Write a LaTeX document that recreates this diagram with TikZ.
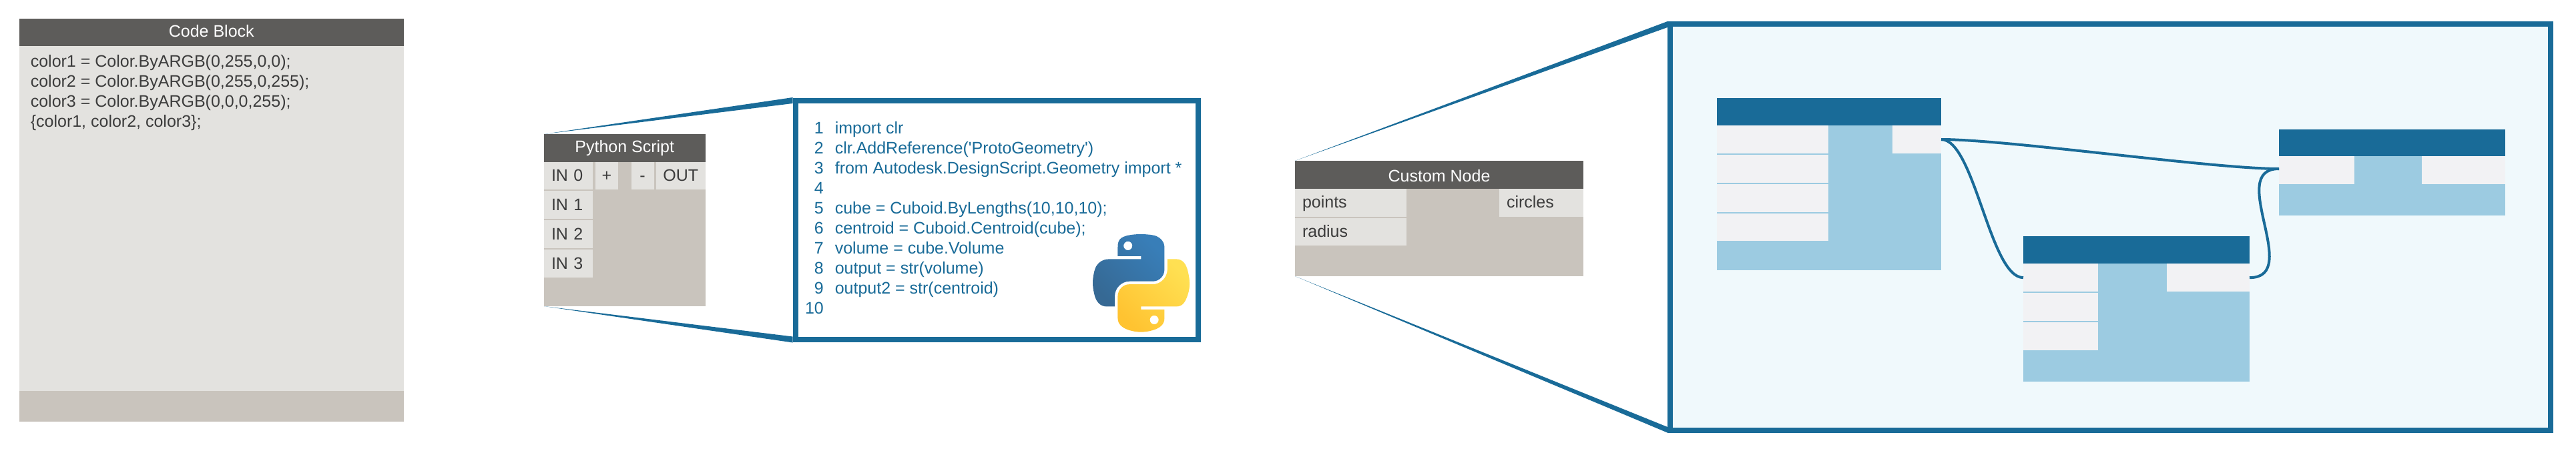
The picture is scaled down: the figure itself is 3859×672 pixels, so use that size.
\documentclass[tikz,border=0pt]{standalone}
\usepackage{fontspec}
\setmainfont[Ligatures=TeXOff]{Liberation Sans}
\definecolor{hdr}{HTML}{5D5C5A}
\definecolor{bodybg}{HTML}{C9C4BD}
\definecolor{port}{HTML}{E3E2DF}
\definecolor{ink}{HTML}{3C3C3C}
\definecolor{deep}{HTML}{196B98}
\definecolor{pale}{HTML}{9CCBE1}
\definecolor{portb}{HTML}{F2F2F4}
\definecolor{panel}{HTML}{F0F9FC}
\definecolor{pya}{HTML}{387EB8}
\definecolor{pyb}{HTML}{366994}
\definecolor{pyc}{HTML}{FFE052}
\definecolor{pyd}{HTML}{FFC331}
\newcommand{\nbox}[7]{%
  \pgfmathsetmacro\nbW{#4-#2}\pgfmathsetmacro\nbH{#5-#3}\pgfmathsetmacro\nbT{#4-#2-22}%
  \node[inner sep=0pt,outer sep=0pt,minimum width=\nbW pt,minimum height=\nbH pt,anchor=north west,#6] (#1) at (#2,#3) {#7};}
\tikzset{
  txt/.style={font=\fontsize{25}{30}\selectfont},
  title/.style={fill=hdr,text=white,txt,text height=17.5pt,text depth=4pt},
  shell/.style={fill=bodybg},
  plain/.style={fill=port},
  portc/.style={fill=port,text=ink,txt,text height=19pt,text depth=3pt},
  portl/.style={portc,inner xsep=11pt,text width=\nbT pt,align=left},
  bluehead/.style={fill=deep},
  blueshell/.style={fill=pale},
  blueport/.style={fill=portb},
  frame/.style={draw=deep,line width=8pt},
  taper/.style={fill=deep},
  wire/.style={draw=deep,line width=4pt},
  code/.style={txt,text=ink,inner sep=0pt,align=left,anchor=base west},
  pycode/.style={txt,text=deep,inner sep=0pt,anchor=base west},
}
\begin{document}
\begin{tikzpicture}[x=1pt,y=-1pt]
\useasboundingbox (0,0) rectangle (3859,672);
% Code block
\nbox{cbbody}{28.6}{69.4}{605}{586}{plain}{}
\nbox{cbfoot}{28.6}{586}{605}{632}{shell}{}
\nbox{cbhead}{28.6}{28}{605}{69.4}{title}{Code Block}
\node[code] (cbtext) at (45.6,190.7) {color1 = Color.ByARGB(0,255,0,0);\\color2 = Color.ByARGB(0,255,0,255);\\color3 = Color.ByARGB(0,0,0,255);\\\{color1, color2, color3\};};
% Python script
\nbox{pybody}{815}{242.7}{1056.5}{459}{shell}{}
\nbox{pyhead}{815}{201}{1056.5}{242.7}{title}{Python Script}
\nbox{in0}{815}{243}{888}{284}{portl}{IN 0}
\nbox{in1}{815}{286}{888}{328}{portl}{IN 1}
\nbox{in2}{815}{330}{888}{372}{portl}{IN 2}
\nbox{in3}{815}{374}{888}{416}{portl}{IN 3}
\nbox{plus}{891.6}{243}{926}{284}{portc}{+}
\nbox{minus}{945.6}{243}{979.5}{284}{portc}{-}
\nbox{pyout}{983}{243}{1056.5}{284}{portc}{OUT}
\nbox{pyframe}{1191.5}{150.5}{1795}{509}{frame,fill=white}{}
\fill[taper] (pyhead.north west) -- ([shift={(-4,-4.5)}]pyframe.north west) -- ([shift={(-4,4.5)}]pyframe.north west) -- cycle;
\fill[taper] (pybody.south west) -- ([shift={(-4,4.5)}]pyframe.south west) -- ([shift={(-4,-4.5)}]pyframe.south west) -- cycle;
\node[pycode,align=right,anchor=base east] (pynums) at (1234,470.7) {1\\2\\3\\4\\5\\6\\7\\8\\9\\10};
\node[pycode,align=left] (pytext) at (1250.6,470.7) {import clr\\clr.AddReference('ProtoGeometry')\\from Autodesk.DesignScript.Geometry import *\\\mbox{}\\cube = Cuboid.ByLengths(10,10,10);\\centroid = Cuboid.Centroid(cube);\\volume = cube.Volume\\output = str(volume)\\output2 = str(centroid)\\\mbox{}};
% Python logo
\begin{scope}[shift={(1637,351)},x=1.305pt,y=-1.305pt]
\shade[even odd rule,left color=pya,right color=pyb,shading angle=-45]
 (54.92,0) .. controls (50.34,0.02) and (45.96,0.41) .. (42.11,1.09) .. controls (30.76,3.10) and (28.70,7.29) .. (28.70,15.03) -- (28.70,25.25) -- (55.51,25.25) -- (55.51,28.66) -- (28.70,28.66) -- (18.64,28.66) .. controls (10.85,28.66) and (4.02,33.34) .. (1.89,42.25) .. controls (-0.57,52.46) and (-0.68,58.84) .. (1.89,69.50) .. controls (3.79,77.44) and (8.35,83.09) .. (16.14,83.09) -- (25.36,83.09) -- (25.36,70.84) .. controls (25.36,61.99) and (33.01,54.19) .. (42.11,54.19) -- (68.89,54.19) .. controls (76.34,54.19) and (82.29,48.05) .. (82.29,40.56) -- (82.29,15.03) .. controls (82.29,7.77) and (76.16,2.31) .. (68.89,1.09) .. controls (64.28,0.33) and (59.50,-0.02) .. (54.92,0) -- cycle
 (40.42,8.22) .. controls (43.19,8.22) and (45.45,10.52) .. (45.45,13.34) .. controls (45.45,16.16) and (43.19,18.44) .. (40.42,18.44) .. controls (37.64,18.44) and (35.39,16.16) .. (35.39,13.34) .. controls (35.39,10.52) and (37.64,8.22) .. (40.42,8.22) -- cycle;
\shade[even odd rule,left color=pyc,right color=pyd,shading angle=-45]
 (85.64,28.66) -- (85.64,40.56) .. controls (85.64,49.79) and (77.81,57.56) .. (68.89,57.56) -- (42.11,57.56) .. controls (34.77,57.56) and (28.70,63.84) .. (28.70,71.19) -- (28.70,96.72) .. controls (28.70,103.99) and (35.02,108.26) .. (42.11,110.34) .. controls (50.59,112.84) and (58.73,113.29) .. (68.89,110.34) .. controls (75.64,108.39) and (82.29,104.46) .. (82.29,96.72) -- (82.29,86.50) -- (55.51,86.50) -- (55.51,83.09) -- (82.29,83.09) -- (95.70,83.09) .. controls (103.49,83.09) and (106.40,77.66) .. (109.11,69.50) .. controls (111.91,61.10) and (111.79,53.03) .. (109.11,42.25) .. controls (107.18,34.49) and (103.50,28.66) .. (95.70,28.66) -- cycle
 (70.58,93.31) .. controls (73.35,93.31) and (75.61,95.59) .. (75.61,98.41) .. controls (75.61,101.23) and (73.35,103.53) .. (70.58,103.53) .. controls (67.81,103.53) and (65.54,101.23) .. (65.54,98.41) .. controls (65.54,95.59) and (67.81,93.31) .. (70.58,93.31) -- cycle;
\end{scope}
% Custom node
\nbox{cnbody}{1940}{283}{2372}{414}{shell}{}
\nbox{cnhead}{1940}{241}{2372}{283}{title,text height=21pt,text depth=0pt}{Custom Node}
\nbox{cnpoints}{1940}{283}{2107}{324.7}{portl}{points}
\nbox{cnradius}{1940}{326.7}{2107}{368}{portl}{radius}
\nbox{cncircles}{2246}{283}{2372}{324.7}{portl}{circles}
\nbox{bigframe}{2502}{36.3}{3821}{644.5}{frame,fill=panel}{}
\fill[taper] (cnhead.north west) -- ([shift={(-4,-4.3)}]bigframe.north west) -- ([shift={(-4,4.7)}]bigframe.north west) -- cycle;
\fill[taper] (cnbody.south west) -- ([shift={(-4,4.1)}]bigframe.south west) -- ([shift={(-4,-4.5)}]bigframe.south west) -- cycle;
% Node A
\nbox{abody}{2572}{188}{2908}{404.5}{blueshell}{}
\nbox{ahead}{2572}{147}{2908}{188}{bluehead}{}
\nbox{ain0}{2572}{188}{2739}{230}{blueport}{}
\nbox{ain1}{2572}{231.6}{2739}{274}{blueport}{}
\nbox{ain2}{2572}{275.6}{2739}{317.5}{blueport}{}
\nbox{ain3}{2572}{319.6}{2739}{361}{blueport}{}
\nbox{aout}{2835}{188}{2908}{230}{blueport}{}
% Node B
\nbox{bbody}{3031}{395}{3370}{571.5}{blueshell}{}
\nbox{bhead}{3031}{354}{3370}{395}{bluehead}{}
\nbox{bin0}{3031}{395}{3143.4}{437.3}{blueport}{}
\nbox{bin1}{3031}{439}{3143.4}{481}{blueport}{}
\nbox{bin2}{3031}{482.6}{3143.4}{524.5}{blueport}{}
\nbox{bout}{3245.5}{395}{3370}{437.3}{blueport}{}
% Node C
\nbox{cbody}{3414}{234}{3752.7}{323}{blueshell}{}
\nbox{chead}{3414}{193.5}{3752.7}{234}{bluehead}{}
\nbox{cin}{3414}{234}{3526.5}{276}{blueport}{}
\nbox{cout}{3628}{234}{3752.7}{276}{blueport}{}
% Wires
\draw[wire] (aout.east) .. controls +(50,0) and ([xshift=-50]bin0.west) .. (bin0.west);
\draw[wire] (aout.east) .. controls +(100,0) and ([xshift=-100,yshift=2]cin.west) .. ([yshift=2]cin.west);
\draw[wire] (bout.east) .. controls +(80,0) and ([xshift=-80,yshift=2]cin.west) .. ([yshift=2]cin.west);
\end{tikzpicture}
\end{document}
